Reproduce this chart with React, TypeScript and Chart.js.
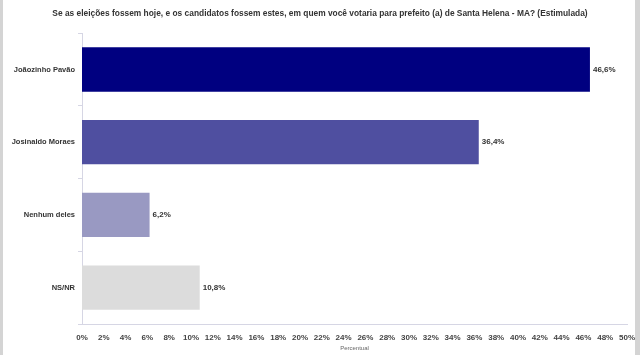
import React, { useEffect, useRef } from "react";
import { Chart, registerables } from "chart.js";

Chart.register(...registerables);

const TITLE = "Se as eleições fossem hoje, e os candidatos fossem estes, em quem você votaria para prefeito (a) de Santa Helena - MA? (Estimulada)";
const categories = ["Joãozinho Pavão", "Josinaldo Moraes", "Nenhum deles", "NS/NR"];
const values = [46.6, 36.4, 6.2, 10.8];
const barColors = ["#000080", "#4f4fa0", "#9999c2", "#dcdcdc"];
const xMin = 0;
const xMax = 50;
const xStep = 2;
const axisTitle = "Percentual";

const FONT = "'Liberation Sans', Arial, sans-serif";

const valueLabels = {
  id: "valueLabels",
  afterDatasetsDraw(chart: any) {
    const { ctx } = chart;
    const meta = chart.getDatasetMeta(0);
    ctx.save();
    ctx.font = `bold 8px ${FONT}`;
    ctx.fillStyle = "#333333";
    ctx.textAlign = "left";
    ctx.textBaseline = "middle";
    meta.data.forEach((bar: any, i: number) => {
      const txt = values[i].toFixed(1).replace(".", ",") + "%";
      ctx.fillText(txt, bar.x + 3, bar.y);
    });
    ctx.restore();
  },
};

export default function App() {
  const ref = useRef<HTMLCanvasElement | null>(null);
  useEffect(() => {
    if (!ref.current) return;
    const chart = new Chart(ref.current, {
      type: "bar",
      data: {
        labels: categories,
        datasets: [
          {
            data: values,
            backgroundColor: barColors,
            borderWidth: 0,
            categoryPercentage: 1,
            barPercentage: 0.61,
          },
        ],
      },
      options: {
        indexAxis: "y",
        responsive: false,
        animation: false,
        layout: { padding: { left: 0, right: 0, top: 0, bottom: 0 } },
        plugins: {
          legend: { display: false },
          tooltip: { enabled: false },
          title: {
            display: true,
            text: TITLE,
            color: "#333333",
            font: { family: FONT, size: 8.4, weight: "bold" },
            padding: { top: 9, bottom: 14 },
          },
        },
        scales: {
          x: {
            min: xMin,
            max: xMax,
            afterFit(scale: any) {
              scale.height = 31;
              scale.paddingLeft = 0;
              scale.paddingRight = 13;
            },
            grid: { display: false, drawTicks: false },
            border: { display: true, color: "#d6d6e4", width: 1 },
            ticks: {
              stepSize: xStep,
              padding: 9,
              color: "#444444",
              font: { family: FONT, size: 8, weight: "bold" },
              maxRotation: 0,
              autoSkip: false,
              callback: (v: any) => `${v}%`,
            },
            title: {
              display: true,
              text: axisTitle,
              color: "#666666",
              font: { family: FONT, size: 6 },
              padding: { top: 0, bottom: 3 },
            },
          },
          y: {
            afterFit(scale: any) {
              scale.width = 82;
            },
            grid: {
              display: true,
              drawOnChartArea: false,
              drawTicks: true,
              tickLength: 4,
              color: "#d6d6e4",
              offset: true,
            },
            border: { display: true, color: "#d6d6e4", width: 1 },
            ticks: {
              padding: 3,
              color: "#333333",
              font: { family: FONT, size: 7.5, weight: "bold" },
            },
          },
        },
      },
      plugins: [valueLabels],
    });
    return () => chart.destroy();
  }, []);

  return (
    <div
      style={{
        position: "fixed",
        left: 0,
        top: 0,
        width: 640,
        height: 355,
        background: "#ffffff",
        overflow: "hidden",
      }}
    >
      <canvas ref={ref} width={640} height={355} style={{ display: "block" }} />
      <div style={{ position: "absolute", left: 0, top: 0, width: 3, height: 355, background: "#d4d4d4" }} />
      <div style={{ position: "absolute", left: 635, top: 0, width: 5, height: 355, background: "#d4d4d4" }} />
    </div>
  );
}
